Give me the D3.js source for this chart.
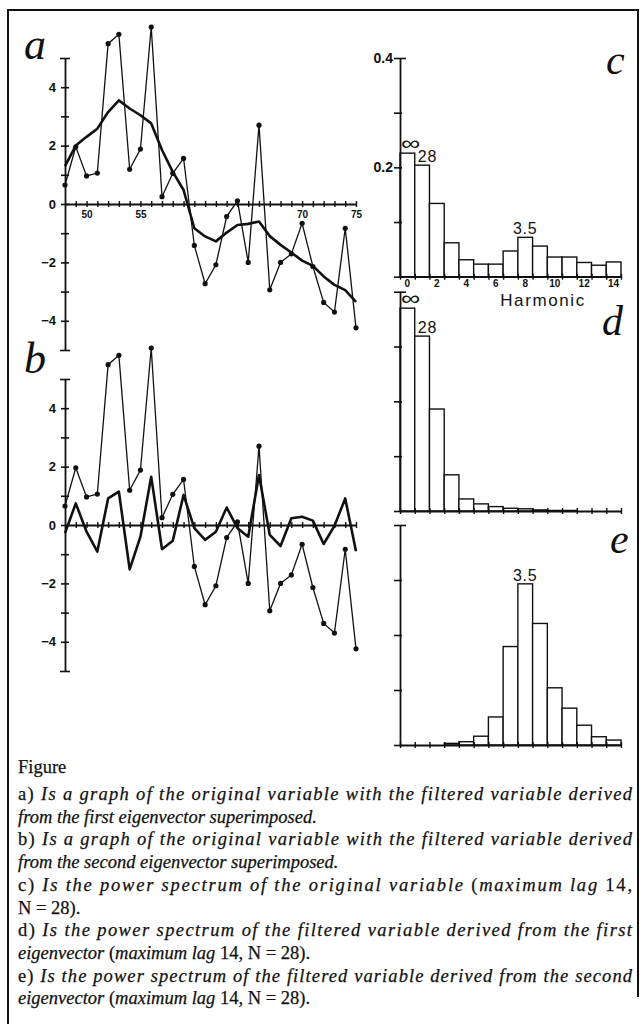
<!DOCTYPE html>
<html lang="en">
<head>
<meta charset="utf-8">
<title>Figure - filtered variables and power spectra</title>
<script src="https://d3js.org/d3.v7.min.js"></script>
<style>
  body { margin: 0; background: #fff; }
  svg { display: block; }
  .lbl { font-family: "Liberation Serif", "DejaVu Serif", serif; font-style: italic; }
  .tk text { font-family: "Liberation Sans", Arial, sans-serif; font-weight: bold; fill: #111; }
  .cap { font-family: "Liberation Serif", "DejaVu Serif", serif; fill: #111; stroke: #111; stroke-width: 0.25px; }
</style>
</head>
<body>
<div id="container"></div>
<script>
var w = 644, h = 1024;

// time series, years 1948-1975 (N = 28)
const years = [48, 49, 50, 51, 52, 53, 54, 55, 56, 57, 58, 59, 60, 61,
               62, 63, 64, 65, 66, 67, 68, 69, 70, 71, 72, 73, 74, 75];
const original = [0.65, 1.96, 0.96, 1.06, 5.49, 5.81, 1.19, 1.88, 6.06, 0.25, 1.05, 1.56, -1.42, -2.73,
                  -2.08, -0.43, 0.11, -2.0, 2.70, -2.94, -2.0, -1.71, -0.66, -2.14, -3.37, -3.70, -0.83, -4.24];
// filtered by first eigenvector (panel a)
const filtered1 = [1.3, 2.0, 2.3, 2.58, 3.15, 3.55, 3.27, 3.04, 2.76, 1.85, 1.1, 0.48, -0.83, -1.11,
                   -1.28, -0.98, -0.72, -0.68, -0.6, -1.1, -1.40, -1.66, -1.94, -2.12, -2.48, -2.77, -2.95, -3.35];
// filtered by second eigenvector (panel b)
const filtered2 = [-0.28, 0.74, -0.23, -0.91, 0.91, 1.14, -1.52, -0.4, 1.65, -0.83, -0.54, 1.03, -0.11, -0.51,
                   -0.23, 0.6, -0.11, -0.40, 1.71, -0.34, -0.72, 0.23, 0.28, 0.15, -0.65, -0.03, 0.91, -0.9];
const yTicks = [-5, -4, -3, -2, -1, 0, 1, 2, 3, 4, 5];
const yLabels = [-4, -2, 0, 2, 4];
const yearLabels = [50, 55, 70, 75];

// power spectra, harmonics 0-14
const harmonics = [0, 1, 2, 3, 4, 5, 6, 7, 8, 9, 10, 11, 12, 13, 14];
const harmonicLabels = [0, 2, 4, 6, 8, 10, 12, 14];
const spectrumC = [0.226, 0.204, 0.134, 0.062, 0.031, 0.023, 0.023, 0.047, 0.072, 0.056, 0.036, 0.036, 0.026, 0.021, 0.027];
const spectrumD = [0.370, 0.319, 0.186, 0.066, 0.022, 0.013, 0.008, 0.005, 0.004, 0.002, 0.001, 0.001, 0.0, 0.0, 0.0];
const spectrumE = [0, 0, 0, 0.003, 0.006, 0.016, 0.051, 0.179, 0.293, 0.221, 0.104, 0.067, 0.036, 0.015, 0.009];
const powerTicks = [0, 0.1, 0.2, 0.3, 0.4];
const periodsC = [{ h: 0, t: "\u221E" }, { h: 1, t: "28" }, { h: 8, t: "3.5" }];
const periodsD = [{ h: 0, t: "\u221E" }, { h: 1, t: "28" }];
const periodsE = [{ h: 8, t: "3.5" }];

// caption lines: [italic?, text] segments
const captionLines = [
  [[0, "a) "], [1, "Is a graph of the original variable with the filtered variable derived"]],
  [[1, "from the first eigenvector superimposed."]],
  [[0, "b) "], [1, "Is a graph of the original variable with the filtered variable derived"]],
  [[1, "from the second eigenvector superimposed."]],
  [[0, "c) "], [1, "Is the power spectrum of the original variable "], [0, "("], [1, "maximum lag "], [0, "14,"]],
  [[0, "N = 28)."]],
  [[0, "d) "], [1, "Is the power spectrum of the filtered variable derived from the first"]],
  [[1, "eigenvector "], [0, "("], [1, "maximum lag "], [0, "14, N = 28)."]],
  [[0, "e) "], [1, "Is the power spectrum of the filtered variable derived from the second"]],
  [[1, "eigenvector "], [0, "("], [1, "maximum lag "], [0, "14, N = 28)."]]
];
const justified = [true, false, true, false, true, false, true, false, true, false];

const svg = d3.select("#container").append("svg")
    .attr("width", w).attr("height", h)
    .style("background-color", "#fff");

// frame
svg.append("path")
    .attr("d", "M8,1024 L8,10 L638,10 L638,997")
    .attr("fill", "none").attr("stroke", "#111").attr("stroke-width", 2);

// ---------- time series panels ----------
var xT = d3.scaleLinear().domain([48, 75]).range([65, 356]);

function seriesPanel(y0, y1, filt, letter, showYears) {
    var y = d3.scaleLinear().domain([-5, 5]).range([y1, y0]);
    var g = svg.append("g");

    // y axis
    var ay = g.append("g").attr("class", "tk").attr("transform", "translate(65,0)")
        .call(d3.axisLeft(y).tickValues(yTicks).tickSize(4).tickSizeOuter(0)
            .tickFormat(d => yLabels.includes(d) ? d3.format("d")(d) : ""));
    ay.select(".domain").attr("stroke", "#111").attr("stroke-width", 1.8);
    ay.selectAll(".tick line").attr("x1", -4).attr("x2", 4).attr("stroke", "#111").attr("stroke-width", 1.6);
    ay.selectAll(".tick").filter(d => d === 5 || d === -5).select("line").attr("x1", -5).attr("x2", 5);
    ay.selectAll(".tick text").attr("x", -9).style("font-size", "13px");

    // x axis at zero
    var ax = g.append("g").attr("class", "tk").attr("transform", "translate(0," + y(0) + ")")
        .call(d3.axisBottom(xT).tickValues(years.slice(1)).tickSize(3).tickSizeOuter(0)
            .tickFormat(d => showYears && yearLabels.includes(d) ? d : ""));
    ax.select(".domain").attr("stroke", "#111").attr("stroke-width", 1.8);
    ax.selectAll(".tick line").attr("y1", -3).attr("y2", 3).attr("stroke", "#111").attr("stroke-width", 1.4);
    ax.selectAll(".tick text").attr("y", 7).style("font-size", "10px");

    // original variable
    var line = d3.line().x((d, i) => xT(years[i])).y(d => y(d));
    g.append("path").datum(original)
        .attr("d", line).attr("fill", "none").attr("stroke", "#111").attr("stroke-width", 1.3);
    g.selectAll("circle").data(original).enter().append("circle")
        .attr("cx", (d, i) => xT(years[i])).attr("cy", d => y(d)).attr("r", 2.6).attr("fill", "#111");

    // filtered variable
    g.append("path").datum(filt)
        .attr("d", line).attr("fill", "none").attr("stroke", "#111")
        .attr("stroke-width", 2.6).attr("stroke-linejoin", "round");

    g.append("text").attr("class", "lbl").attr("x", 24).attr("y", y0 + (letter === "a" ? 1 : -6))
        .style("font-size", "44px").attr("fill", "#111").text(letter);
}

seriesPanel(58, 350, filtered1, "a", true);
seriesPanel(379, 671, filtered2, "b", false);

// ---------- spectrum panels ----------
var xH = d3.scaleLinear().domain([0, 15]).range([400, 621]);

function spectrumPanel(yTop, yBot, vals, periods, letter, lx, ly, showAxisLabels) {
    var y = d3.scaleLinear().domain([0, 0.4]).range([yBot, yTop]);
    var g = svg.append("g");

    g.selectAll("rect").data(vals).enter().append("rect")
        .attr("x", (d, i) => xH(harmonics[i])).attr("width", xH(1) - xH(0))
        .attr("y", d => y(d)).attr("height", d => yBot - y(d))
        .attr("fill", "#fff").attr("stroke", "#111").attr("stroke-width", 1.4);

    var ay = g.append("g").attr("class", "tk").attr("transform", "translate(" + xH(0) + ",0)")
        .call(d3.axisLeft(y).tickValues(powerTicks).tickSize(5).tickSizeOuter(0)
            .tickFormat(d => showAxisLabels && (d === 0.2 || d === 0.4) ? d3.format(".1f")(d) : ""));
    ay.select(".domain").attr("stroke", "#111").attr("stroke-width", 1.8);
    ay.selectAll(".tick line").attr("x1", -6).attr("x2", 2).attr("stroke", "#111").attr("stroke-width", 1.6);
    ay.selectAll(".tick").filter(d => d === 0.4).select("line").attr("x1", -6).attr("x2", 6);
    ay.selectAll(".tick text").attr("x", -7).style("font-size", "14px");

    var ax = g.append("g").attr("class", "tk").attr("transform", "translate(0," + yBot + ")")
        .call(d3.axisBottom(xH).tickValues(harmonics.concat([15])).tickSize(3).tickSizeOuter(0).tickFormat(""));
    ax.select(".domain").attr("stroke", "#111").attr("stroke-width", 1.8);
    ax.selectAll(".tick line").attr("y1", -3).attr("y2", 3).attr("stroke", "#111").attr("stroke-width", 1.4);

    if (showAxisLabels) {
        g.selectAll("text.hl").data(harmonicLabels).enter().append("text")
            .attr("class", "hl")
            .attr("x", d => xH(d + 0.5)).attr("y", yBot + 10)
            .attr("text-anchor", "middle")
            .style("font-family", "'Liberation Sans', Arial, sans-serif").style("font-weight", "bold")
            .style("font-size", "10px").attr("fill", "#111").text(d => d);
        g.append("text").attr("x", 543).attr("y", yBot + 29).attr("text-anchor", "middle")
            .style("font-family", "'Liberation Sans', Arial, sans-serif").style("font-size", "17px")
            .style("letter-spacing", "1.6px").attr("fill", "#111").text("Harmonic");
    }

    // period labels above bars
    g.selectAll("text.per").data(periods).enter().append("text")
        .attr("class", "per")
        .attr("transform", function (d) {
            var px = d.t === "3.5" ? xH(d.h + 0.5) : xH(d.h) + (d.t === "28" ? 3 : 1);
            var py = y(vals[d.h]) - (d.t === "\u221E" ? 3 : 3);
            return "translate(" + px + "," + py + ")" + (d.t === "\u221E" ? " scale(1.5,1.1)" : "");
        })
        .attr("text-anchor", d => d.t === "3.5" ? "middle" : "start")
        .style("font-family", "'Liberation Sans', Arial, sans-serif")
        .style("font-size", d => d.t === "\u221E" ? "18px" : "16px")
        .style("letter-spacing", d => d.t === "\u221E" ? "0px" : "0.8px")
        .attr("fill", "#111").text(d => d.t);

    g.append("text").attr("class", "lbl").attr("x", lx).attr("y", ly)
        .style("font-size", "42px").attr("fill", "#111").text(letter);
}

spectrumPanel(58, 276.7, spectrumC, periodsC, "c", 606, 74, true);
spectrumPanel(291.7, 511, spectrumD, periodsD, "d", 602, 335, false);
spectrumPanel(525, 745, spectrumE, periodsE, "e", 610, 553, false);

// ---------- caption ----------
svg.append("text").attr("class", "cap").attr("x", 18).attr("y", 773)
    .style("font-size", "18.5px").text("Figure");

captionLines.forEach(function (segs, i) {
    var t = svg.append("text").attr("class", "cap")
        .attr("x", 18).attr("y", 800 + i * 22.7)
        .style("font-size", "18.5px");
    if (justified[i]) t.attr("textLength", 614).attr("lengthAdjust", "spacing");
    segs.forEach(function (s) {
        t.append("tspan").style("font-style", s[0] ? "italic" : "normal").text(s[1]);
    });
});
</script>
</body>
</html>
